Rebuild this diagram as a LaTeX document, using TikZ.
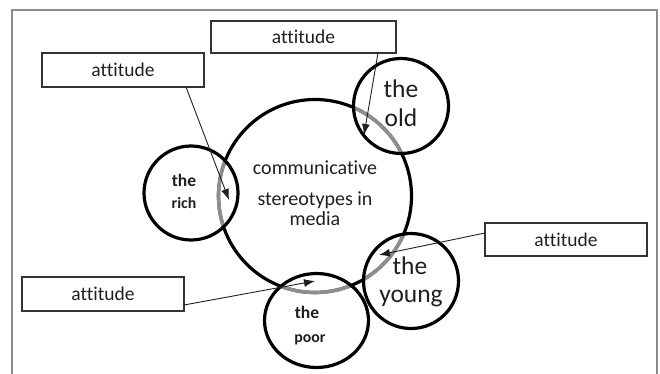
\documentclass[tikz,border=0pt]{standalone}
\usepackage{fontspec}
\setmainfont{Carlito}[Ligatures={NoCommon}]
\usetikzlibrary{arrows.meta,shapes.geometric}
\definecolor{framegray}{HTML}{8C8C8C}
\definecolor{arcgray}{HTML}{8E8E8E}
\definecolor{boxline}{HTML}{333333}
\tikzset{
  ring/.style={draw=black, line width=3.2pt, circle, minimum size=#1, inner sep=0pt},
  lbl/.style={inner sep=0pt, anchor=base, text=black!88},
  attbox/.style={draw=boxline, line width=1.1pt, rectangle, minimum width=#1, minimum height=32pt, inner sep=0pt, font=\fontsize{19.5}{20}\selectfont, text=black!88},
  pointer/.style={draw=black!88, line width=0.9pt, -{Latex[length=11pt,width=8pt]}},
  arcover/.style={draw=arcgray, line width=3.6pt}
}
\begin{document}
\begin{tikzpicture}[x=1pt,y=-1pt]
\useasboundingbox (0,0) rectangle (660,374);
% frame
\draw[framegray, line width=1.3pt] (12,374) -- (12,10) -- (657,10) -- (657,374);
% main circle
\node[ring=193] (main) at (315,196) {};
% gray parts of main circle inside the small circles
\begin{scope}
  \clip (401,106) circle (47.5);
  \draw[arcover] (315,196) circle (96.5);
\end{scope}
\begin{scope}
  \clip (191,193) circle (47);
  \draw[arcover] (315,196) circle (96.5);
\end{scope}
\begin{scope}
  \clip (411,281) circle (47.5);
  \draw[arcover] (315,196) circle (96.5);
\end{scope}
\begin{scope}
  \clip (316.5,320.5) ellipse [x radius=52, y radius=47];
  \draw[arcover] (315,196) circle (96.5);
\end{scope}
% small circles
\node[ring=95] (old) at (401,106) {};
\node[ring=94] (rich) at (191,193) {};
\node[ring=95] (young) at (411,281) {};
\node[draw=black, line width=3.2pt, ellipse, minimum width=104, minimum height=94, inner sep=0pt] (poor) at (316.5,320.5) {};
% main text
\node[lbl, font=\fontsize{20}{21}\selectfont] (mt1) at (315,175) {communicative};
\node[lbl, font=\fontsize{20}{21}\selectfont] (mt2) at (315,205) {stereotypes in};
\node[lbl, font=\fontsize{20}{21}\selectfont] (mt3) at (315,225) {media};
% small circle texts
\node[lbl, font=\fontsize{25.5}{27}\selectfont] (old1) at (401,98) {the};
\node[lbl, font=\fontsize{25.5}{27}\selectfont] (old2) at (401,127) {old};
\node[lbl, font=\fontsize{25.5}{27}\selectfont] (young1) at (410,274) {the};
\node[lbl, font=\fontsize{25.5}{27}\selectfont] (young2) at (411,302) {young};
\node[lbl, font=\bfseries\fontsize{17.5}{18}\selectfont] (rich1) at (184,186) {the};
\node[lbl, font=\bfseries\fontsize{15.8}{17}\selectfont] (rich2) at (184,208) {rich};
\node[lbl, font=\bfseries\fontsize{17.5}{18}\selectfont] (poor1) at (307,318) {the};
\node[lbl, font=\bfseries\fontsize{15.8}{17}\selectfont] (poor2) at (310,342) {poor};
% attitude boxes
\node[attbox=185] (b1) at (303.5,37) {attitude};
\node[attbox=162, minimum height=34pt] (b2) at (123,70) {attitude};
\node[attbox=162, minimum height=33pt] (b3) at (566,239.5) {attitude};
\node[attbox=162, minimum height=34pt] (b4) at (103,294) {attitude};
% arrow tips and starts
\coordinate (t1) at (364,135);
\coordinate (t2) at (229,200);
\coordinate (t3) at (379,255);
\coordinate (t4) at (315,281);
\coordinate (s1) at (378,53);
\coordinate (s2) at (186,87);
\coordinate (s3) at (485,233);
\coordinate (s4) at (184,305);
\draw[pointer] (s1) -- (t1);
\draw[pointer] (s2) -- (t2);
\draw[pointer] (s3) -- (t3);
\draw[pointer] (s4) -- (t4);
\end{tikzpicture}
\end{document}
